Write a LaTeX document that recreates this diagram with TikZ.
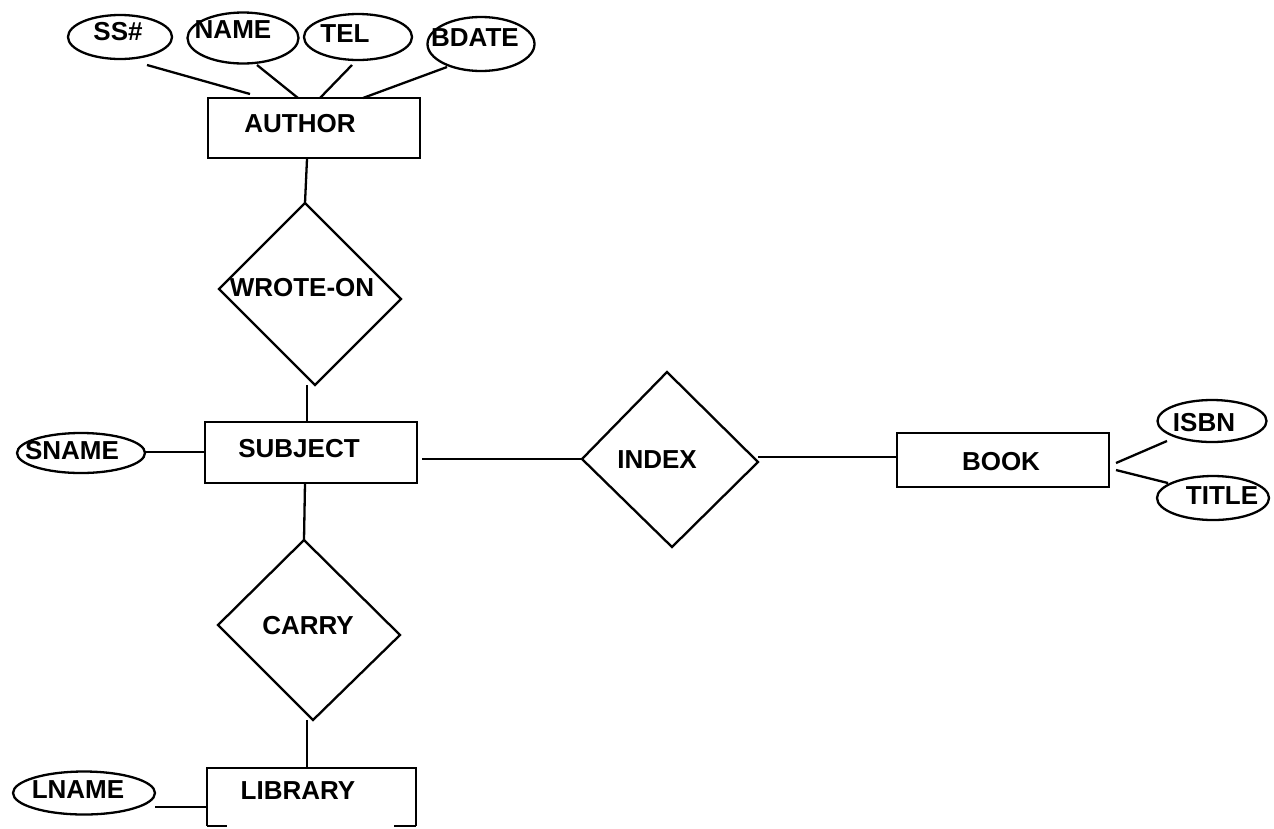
\documentclass[tikz,border=0pt]{standalone}
\usepackage{fontspec}
\setmainfont{Liberation Sans}
\usetikzlibrary{shapes.geometric}
\begin{document}
\begin{tikzpicture}[x=1pt,y=-1pt,line width=2.3pt,
  entity/.style={draw,rectangle,inner sep=0pt},
  attr/.style={draw,ellipse,inner sep=0pt},
  lbl/.style={inner sep=0pt,font=\fontsize{26}{31}\selectfont\bfseries},
]
\useasboundingbox (0,0) rectangle (1274,828);

% entities
\node[entity,minimum width=212pt,minimum height=60pt] (author) at (314,128) {};
\node[entity,minimum width=212pt,minimum height=61pt] (subject) at (311,452.5) {};
\node[entity,minimum width=212pt,minimum height=54pt] (book) at (1003,460) {};
% library box, running off the bottom edge
\coordinate (lib-bl) at (207,826);
\coordinate (lib-tl) at (207,768);
\coordinate (lib-tr) at (416,768);
\coordinate (lib-br) at (416,826);
\draw (lib-bl) -- (lib-tl) -- (lib-tr) -- (lib-br);
\draw (lib-bl) -- ++(20,0);
\draw (lib-br) -- ++(-22,0);

% relationships
\coordinate (wo-n) at (305,203);
\coordinate (wo-w) at (219,289);
\coordinate (wo-e) at (401,299);
\coordinate (wo-s) at (315,385);
\draw (wo-n) -- (wo-e) -- (wo-s) -- (wo-w) -- cycle;
\coordinate (ca-n) at (304,540);
\coordinate (ca-w) at (218,625);
\coordinate (ca-e) at (400,635);
\coordinate (ca-s) at (313,720);
\draw (ca-n) -- (ca-e) -- (ca-s) -- (ca-w) -- cycle;
\coordinate (ix-n) at (667,372);
\coordinate (ix-w) at (582,459);
\coordinate (ix-e) at (758,462);
\coordinate (ix-s) at (672,547);
\draw (ix-n) -- (ix-e) -- (ix-s) -- (ix-w) -- cycle;

% attributes
\node[attr,minimum width=104pt,minimum height=44pt] (ssn) at (120,37) {};
\node[attr,minimum width=111pt,minimum height=51pt] (name) at (243,38) {};
\node[attr,minimum width=108pt,minimum height=46pt] (tel) at (358,37) {};
\node[attr,minimum width=107pt,minimum height=54pt] (bdate) at (481,44) {};
\node[attr,minimum width=128pt,minimum height=40pt] (sname) at (81,453) {};
\node[attr,minimum width=142pt,minimum height=43pt] (lname) at (84,793) {};
\node[attr,minimum width=109pt,minimum height=42pt] (isbn) at (1212,421) {};
\node[attr,minimum width=112pt,minimum height=44pt] (title) at (1213,498) {};

% labels
\node[lbl] (t-ssn) at (118,32) {SS\#};
\node[lbl] (t-name) at (233,30) {NAME};
\node[lbl] (t-tel) at (345,34) {TEL};
\node[lbl] (t-bdate) at (475,38) {BDATE};
\node[lbl] (t-author) at (300,124) {AUTHOR};
\node[lbl] (t-wo) at (302,288) {WROTE-ON};
\node[lbl] (t-subject) at (299,449) {SUBJECT};
\node[lbl] (t-carry) at (308,626) {CARRY};
\node[lbl] (t-library) at (298,791) {LIBRARY};
\node[lbl] (t-lname) at (78,790) {LNAME};
\node[lbl] (t-sname) at (72,451) {SNAME};
\node[lbl] (t-index) at (657,460) {INDEX};
\node[lbl] (t-book) at (1001,462) {BOOK};
\node[lbl] (t-isbn) at (1204,423) {ISBN};
\node[lbl] (t-title) at (1222,496) {TITLE};

% connector end points
\coordinate (ssn-f) at (147,65);   \coordinate (au-1) at (250,94);
\coordinate (name-f) at (257,65);  \coordinate (au-2) at (298,98);
\coordinate (tel-f) at (352,65);   \coordinate (au-3) at (320,98);
\coordinate (bdate-f) at (447,67); \coordinate (au-4) at (363,98);
\coordinate (au-b) at (307,159);
\coordinate (wo-b) at (307,385);   \coordinate (su-t) at (307,422);
\coordinate (su-b) at (305,483);
\coordinate (ca-b) at (307,720);
\coordinate (lib-t) at (307,768);
\coordinate (sname-e) at (145,452); \coordinate (su-l) at (205,452);
\coordinate (lname-e) at (155,807); \coordinate (lib-l) at (207,807);
\coordinate (su-r) at (422,459);
\coordinate (ix-r) at (758,457);   \coordinate (bk-l) at (898,457);
\coordinate (bk-1) at (1116,463);  \coordinate (isbn-f) at (1167,441);
\coordinate (bk-2) at (1116,470);  \coordinate (title-f) at (1168,483);

% connectors
\draw (ssn-f) -- (au-1);
\draw (name-f) -- (au-2);
\draw (tel-f) -- (au-3);
\draw (bdate-f) -- (au-4);
\draw (au-b) -- (wo-n);
\draw (wo-b) -- (su-t);
\draw (su-b) -- (ca-n);
\draw (ca-b) -- (lib-t);
\draw (sname-e) -- (su-l);
\draw (lname-e) -- (lib-l);
\draw (su-r) -- (ix-w);
\draw (ix-r) -- (bk-l);
\draw (bk-1) -- (isbn-f);
\draw (bk-2) -- (title-f);
\end{tikzpicture}
\end{document}
